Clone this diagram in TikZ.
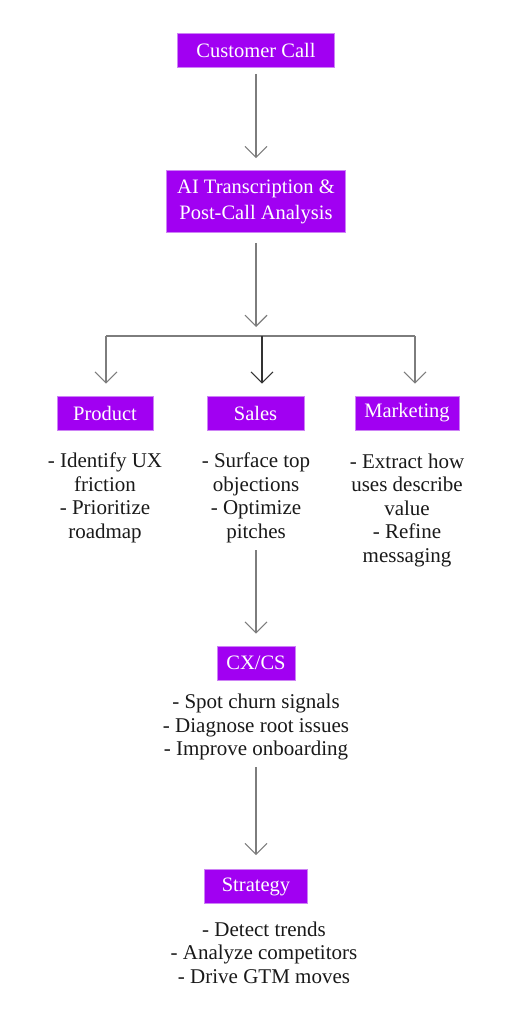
\documentclass[tikz,border=0pt]{standalone}
\usepackage{fontspec}
\setmainfont{Liberation Serif}
\usepackage{tikz}
\usetikzlibrary{arrows.meta}
\definecolor{boxviolet}{RGB}{161,0,242}
\definecolor{rimviolet}{RGB}{205,130,245}
\definecolor{flowgrey}{RGB}{125,125,125}
\tikzstyle{box} = [draw=rimviolet, line width=0.6pt, fill=boxviolet, text=white, inner sep=0pt, minimum height=34pt, font=\fontsize{20.5}{26}\selectfont]
\tikzstyle{notes} = [align=center, inner sep=0pt, text=black!90, font=\fontsize{21}{23.5}\selectfont]
\tikzstyle{flow} = [draw=flowgrey, line width=1.1pt, -{Straight Barb[length=11pt,width=22pt]}]

\begin{document}
\begin{tikzpicture}[x=1pt,y=-1pt]
\useasboundingbox (0,0) rectangle (512,1024);

\node[box, minimum width=157pt] (call) at (256,50.5) {Customer Call};
\node[box, minimum width=179pt, minimum height=62pt, align=center] (ai) at (256,201.5) {AI Transcription \&\\Post-Call Analysis};

\coordinate (split) at (256,327);
\coordinate (hl) at (106,336);
\coordinate (hm) at (262,336);
\coordinate (hr) at (415,336);

\node[box, minimum width=96pt] (product) at (105,413) {Product};
\node[box, minimum width=97pt] (sales) at (255.5,413) {Sales};
\node[box, minimum width=104pt] (marketing) at (407,413) {Marketing};

\node[notes] (producttext) at (105,498) {- Identify UX\\friction\\- Prioritize\\roadmap};
\node[notes] (salestext) at (256,498) {- Surface top\\objections\\- Optimize\\pitches};
\node[notes] (marketingtext) at (407,510) {- Extract how\\uses describe\\value\\- Refine\\messaging};

\node[box, minimum width=78pt] (cx) at (256,663) {CX/CS};
\node[notes] (cxtext) at (256,727) {- Spot churn signals\\- Diagnose root issues\\- Improve onboarding};

\node[box, minimum width=103pt] (strategy) at (256,886.5) {Strategy};
\node[notes] (strategytext) at (264,952.5) {- Detect trends\\- Analyze competitors\\- Drive GTM moves};

% call flow
\draw[flow, shorten <=6pt, shorten >=12pt] (call) -- (ai);
\draw[flow, shorten <=10pt] (ai) -- (split);

% branches
\draw[flowgrey, line width=1.1pt] (hl) -- (hr);
\draw[flow, shorten >=12pt] (hl) -- (hl |- product.north);
\draw[flow, draw=black!80, shorten >=12pt] (hm) -- (hm |- sales.north);
\draw[flow, shorten >=12pt] (hr) -- (hr |- marketing.north);

\draw[flow, shorten <=7pt, shorten >=12pt] (salestext) -- (cx);
\draw[flow, shorten <=7pt, shorten >=14pt] (cxtext) -- (strategy);
\end{tikzpicture}
\end{document}
